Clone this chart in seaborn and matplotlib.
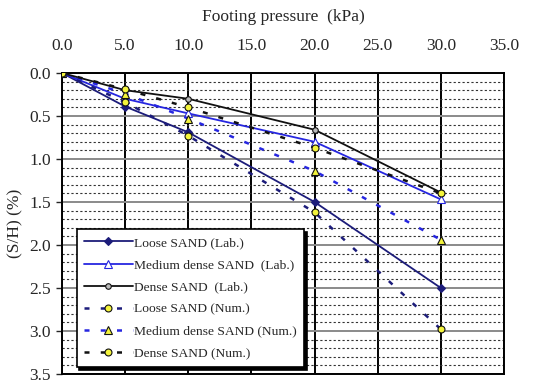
import numpy as np
import pandas as pd
import seaborn as sns
import matplotlib.pyplot as plt
from matplotlib.ticker import MultipleLocator

pressure = [0.0, 5.0, 10.0, 20.0, 30.0]

loose_lab = [0.0, 0.39, 0.69, 1.50, 2.50]
medium_lab = [0.0, 0.30, 0.47, 0.80, 1.47]
dense_lab = [0.0, 0.20, 0.30, 0.66, 1.39]
loose_num = [0.0, 0.34, 0.73, 1.62, 2.98]
medium_num = [0.0, 0.24, 0.53, 1.14, 1.94]
dense_num = [0.0, 0.19, 0.40, 0.87, 1.40]

x_ticks = [0.0, 5.0, 10.0, 15.0, 20.0, 25.0, 30.0, 35.0]
y_ticks = [0.0, 0.5, 1.0, 1.5, 2.0, 2.5, 3.0, 3.5]

navy = "#1c1c7a"
blue = "#2626e0"
black = "#111111"
yellow = "#f4f43c"
dots = (0, (2.0, 4.5))

series = [
    ("Loose SAND (Lab.)", loose_lab, navy, "D", navy, "-", 4.5),
    ("Medium dense SAND  (Lab.)", medium_lab, blue, "^", "white", "-", 5.5),
    ("Dense SAND  (Lab.)", dense_lab, black, "o", "#bbbbbb", "-", 4),
    ("Loose SAND (Num.)", loose_num, navy, "o", yellow, dots, 5),
    ("Medium dense SAND (Num.)", medium_num, blue, "^", yellow, dots, 5.5),
    ("Dense SAND (Num.)", dense_num, black, "o", yellow, dots, 5),
]

sns.set_style("white")
plt.rcParams["font.family"] = ["Liberation Serif", "DejaVu Serif"]

fig = plt.figure(figsize=(5.5, 3.88), dpi=100)
ax = fig.add_axes([0.1127, 0.0361, 0.8037, 0.7758])

for label, values, color, marker, face, ls, ms in series:
    df = pd.DataFrame({"p": pressure, "s": values})
    sns.lineplot(
        data=df, x="p", y="s", ax=ax, sort=False, errorbar=None,
        color=color, marker=marker, markersize=ms,
        markerfacecolor=face, markeredgecolor=black if face == yellow else color,
        markeredgewidth=0.8, linestyle=ls, linewidth=1.3 if ls == "-" else 1.8,
        label=label, zorder=4,
    )

ax.set_xlim(0, 35)
ax.set_ylim(3.5, 0)
ax.xaxis.tick_top()
ax.xaxis.set_label_position("top")
ax.set_xticks(x_ticks)
ax.set_xticklabels([f"{v:.1f}" for v in x_ticks], fontsize=12.5)
ax.set_yticks(y_ticks)
ax.set_yticklabels([f"{v:.1f}" for v in y_ticks], fontsize=12.5)
ax.yaxis.set_minor_locator(MultipleLocator(0.1))
ax.tick_params(axis="y", which="major", direction="out", length=4, width=1, left=True, pad=4)
ax.tick_params(axis="y", which="minor", length=0)
ax.tick_params(axis="x", which="major", length=0, pad=14)

ax.set_xlabel("Footing pressure  (kPa)", fontsize=12.5, labelpad=12)
ax.set_ylabel("(S/H) (%)", fontsize=12.5, labelpad=4)

ax.grid(axis="x", which="major", color="black", linewidth=1.4, linestyle="-")
ax.grid(axis="y", which="major", color="#8a8a8a", linewidth=1.4, linestyle="-")
ax.grid(axis="y", which="minor", color="#333333", linewidth=0.8, linestyle=(0, (2, 2)))
ax.set_axisbelow(True)

for spine in ax.spines.values():
    spine.set_color("black")
    spine.set_linewidth(1.4)

leg = ax.legend(
    loc="lower left", bbox_to_anchor=(0.018, 0.0), fontsize=9.7,
    frameon=True, fancybox=False, shadow={"color": "black", "alpha": 1},
    edgecolor="black", framealpha=1, handlelength=3.6, handletextpad=0.1,
    labelspacing=0.72, borderpad=0.55,
)
leg.get_frame().set_linewidth(1.2)
leg.set_zorder(10)

fig.savefig("out.png", dpi=100)
